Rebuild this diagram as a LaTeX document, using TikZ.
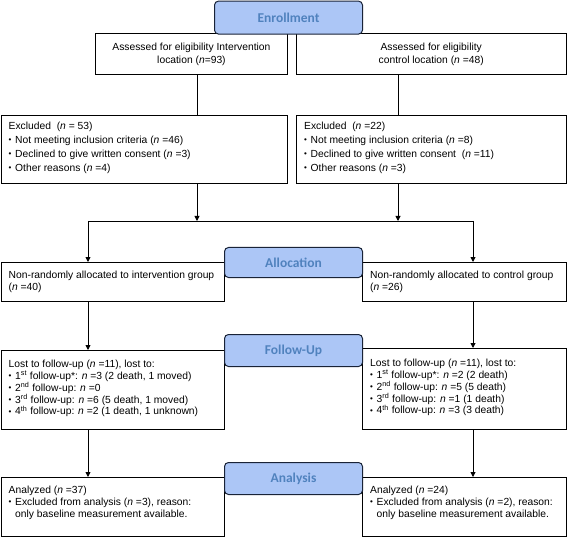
\documentclass[tikz,border=0pt]{standalone}
\usepackage{fontspec}
\setmainfont{Liberation Sans}
\newfontfamily\hdrfont{Carlito}
\usetikzlibrary{arrows.meta,calc}
\definecolor{hdrfill}{RGB}{172,198,246}
\definecolor{hdrtext}{RGB}{80,130,190}
\definecolor{hdrline}{RGB}{25,35,55}
\newcommand\bl{\makebox[6.5pt][l]{\raisebox{0.5pt}{\fontsize{8}{8}\selectfont •}}}
\newcommand\bi{\hspace*{6.5pt}}
\newcommand\nn{\textit{n}}
\begin{document}
\begin{tikzpicture}[x=1pt,y=-1pt,
  box/.style={draw=black, line width=0.9pt, fill=white, inner sep=0pt, anchor=north west},
  hdr/.style={draw=hdrline, line width=1pt, fill=hdrfill, rounded corners=4pt, inner sep=0pt,
    anchor=north west, font=\hdrfont\bfseries\fontsize{13.5}{16}\selectfont, text=hdrtext},
  txt/.style={inner sep=0pt, anchor=north west, align=left, font=\fontsize{10.3}{11.8}\selectfont,
    execute at begin node={\strut}},
  wtxt/.style={txt, font=\fontsize{10.3}{14}\selectfont},
  ctxt/.style={inner sep=0pt, align=center, font=\fontsize{10.3}{13.5}\selectfont},
  arr/.style={-{Triangle[length=5pt,width=5pt]}, line width=0.9pt},
  conn/.style={line width=0.9pt}]
\useasboundingbox (0,0) rectangle (567,537);

% boxes
\node[box, minimum width=192pt, minimum height=41pt] (assL) at (95,33) {};
\node[box, minimum width=269.5pt, minimum height=41pt] (assR) at (296,33) {};
\node[box, minimum width=286.5pt, minimum height=68pt] (excL) at (0.5,115) {};
\node[box, minimum width=269.5pt, minimum height=68pt] (excR) at (296,115) {};
\node[box, minimum width=223.5pt, minimum height=39pt] (allL) at (0.5,262) {};
\node[box, minimum width=203.5pt, minimum height=39pt] (allR) at (362,262) {};
\node[box, minimum width=223.5pt, minimum height=79pt] (lostL) at (0.5,350) {};
\node[box, minimum width=203.5pt, minimum height=81pt] (lostR) at (362,348) {};
\node[box, minimum width=223.5pt, minimum height=59pt] (anaL) at (0.5,477) {};
\node[box, minimum width=203.5pt, minimum height=59pt] (anaR) at (362,477) {};

% texts
\node[ctxt] (assLt) at ($(assL.center)+(0,0.5)$) {Assessed for eligibility Intervention\\location (\nn=93)};
\node[ctxt] (assRt) at ($(assR.center)+(0,0.5)$) {Assessed for eligibility\\control location (\nn{} =48)};
\node[wtxt] (excLt) at ($(excL.north west)+(8,6.5)$) {Excluded\ \ (\nn{} = 53)\\
  \bl Not meeting inclusion criteria (\nn{} =46)\\
  \bl Declined to give written consent (\nn{} =3)\\
  \bl Other reasons (\nn{} =4)};
\node[wtxt] (excRt) at ($(excR.north west)+(8,6.5)$) {Excluded\ \ (\nn{} =22)\\
  \bl Not meeting inclusion criteria (\nn{} =8)\\
  \bl Declined to give written consent\ \ (\nn{} =11)\\
  \bl Other reasons (\nn{} =3)};
\node[txt] (allLt) at ($(allL.north west)+(8,9)$) {Non-randomly allocated to intervention group\\(\nn{} =40)};
\node[txt] (allRt) at ($(allR.north west)+(8,9)$) {Non-randomly allocated to control group\\(\nn{} =26)};
\node[txt] (lostLt) at ($(lostL.north west)+(8,10)$) {Lost to follow-up (\nn{} =11), lost to:\\
  \bl 1\textsuperscript{st} follow-up*: \nn{} =3 (2 death, 1 moved)\\
  \bl 2\textsuperscript{nd} follow-up: \nn{} =0\\
  \bl 3\textsuperscript{rd} follow-up: \nn{} =6 (5 death, 1 moved)\\
  \bl 4\textsuperscript{th} follow-up: \nn{} =2 (1 death, 1 unknown)};
\node[txt] (lostRt) at ($(lostR.north west)+(8,11)$) {Lost to follow-up (\nn{} =11), lost to:\\
  \bl 1\textsuperscript{st} follow-up*: \nn{} =2 (2 death)\\
  \bl 2\textsuperscript{nd} follow-up: \nn{} =5 (5 death)\\
  \bl 3\textsuperscript{rd} follow-up: \nn{} =1 (1 death)\\
  \bl 4\textsuperscript{th} follow-up: \nn{} =3 (3 death)};
\node[txt] (anaLt) at ($(anaL.north west)+(8,9)$) {Analyzed (\nn{} =37)\\
  \bl Excluded from analysis (\nn{} =3), reason:\\
  \bi only baseline measurement available.};
\node[txt] (anaRt) at ($(anaR.north west)+(8,9)$) {Analyzed (\nn{} =24)\\
  \bl Excluded from analysis (\nn{} =2), reason:\\
  \bi only baseline measurement available.};

% connectors
\coordinate (cL) at (197,0);
\coordinate (cR) at (398,0);
\coordinate (hL) at (88,221);
\coordinate (hR) at (473,221);
\draw[conn] (assL.south -| cL) -- (excL.north -| cL);
\draw[conn] (assR.south -| cR) -- (excR.north -| cR);
\draw[arr] (excL.south -| cL) -- (hL -| cL);
\draw[arr] (excR.south -| cR) -- (hL -| cR);
\draw[conn] (hL) -- (hR);
\draw[arr] (hL) -- (allL.north -| hL);
\draw[arr] (hR) -- (allR.north -| hR);
\draw[arr] (allL.south -| hL) -- (lostL.north -| hL);
\draw[arr] (allR.south -| hR) -- (lostR.north -| hR);
\draw[arr] (lostL.south -| hL) -- (anaL.north -| hL);
\draw[arr] (lostR.south -| hR) -- (anaR.north -| hR);

% headers
\node[hdr, minimum width=148pt, minimum height=33pt] (enr) at (214,0.6) {Enrollment};
\node[hdr, minimum width=138pt, minimum height=30pt] (alc) at (224,247) {Allocation};
\node[hdr, minimum width=138pt, minimum height=32pt] (fol) at (224,334) {Follow-Up};
\node[hdr, minimum width=138pt, minimum height=32pt] (anh) at (224,462) {Analysis};
\end{tikzpicture}
\end{document}
